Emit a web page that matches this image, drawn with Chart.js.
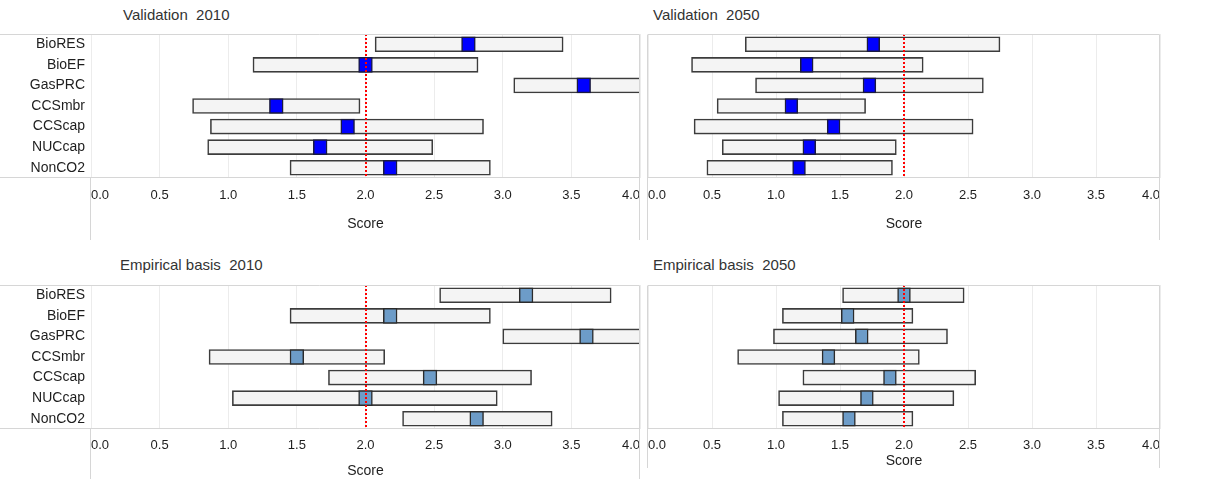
<!DOCTYPE html>
<html>
<head>
<meta charset="utf-8">
<script src="https://cdn.jsdelivr.net/npm/chart.js@4.4.1/dist/chart.umd.min.js"></script>
<style>
  html, body { margin: 0; padding: 0; background: #fff; }
  body { width: 1206px; height: 479px; position: relative; overflow: hidden; font-family: "Liberation Sans", Arial, sans-serif; }
  .panel { position: absolute; }
  .ttl { position: absolute; font-size: 15px; color: #333; white-space: pre; line-height: 18px; }
</style>
</head>
<body>
<div class="ttl" style="left:123px; top:6px;">Validation  2010</div>
<div class="ttl" style="left:653px; top:6px;">Validation  2050</div>
<div class="ttl" style="left:120px; top:256px;">Empirical basis  2010</div>
<div class="ttl" style="left:653px; top:256px;">Empirical basis  2050</div>

<div class="panel" style="left:0; top:33px; width:641px; height:207px;"><canvas id="c-val2010"></canvas></div>
<div class="panel" style="left:647px; top:33px; width:514px; height:207px;"><canvas id="c-val2050"></canvas></div>
<div class="panel" style="left:0; top:284px; width:641px; height:195px;"><canvas id="c-emp2010"></canvas></div>
<div class="panel" style="left:647px; top:284px; width:514px; height:184px;"><canvas id="c-emp2050"></canvas></div>

<script>
    const categories = ['BioRES', 'BioEF', 'GasPRC', 'CCSmbr', 'CCScap', 'NUCcap', 'NonCO2'];
    const xTicks = [0, 0.5, 1, 1.5, 2, 2.5, 3, 3.5, 4];
    const refScore = 2.0;

    // Validation 2010
    const val2010Low = [2.07, 1.18, 3.08, 0.74, 0.87, 0.85, 1.45];
    const val2010High = [3.44, 2.82, 4.10, 1.96, 2.86, 2.49, 2.91];
    const val2010Mid = [2.75, 2.00, 3.59, 1.35, 1.87, 1.67, 2.18];

    // Validation 2050
    const val2050Low = [0.76, 0.34, 0.84, 0.54, 0.36, 0.58, 0.46];
    const val2050High = [2.75, 2.15, 2.62, 1.70, 2.54, 1.94, 1.91];
    const val2050Mid = [1.76, 1.24, 1.73, 1.12, 1.45, 1.26, 1.18];

    // Empirical basis 2010
    const emp2010Low = [2.54, 1.45, 3.00, 0.86, 1.73, 1.03, 2.27];
    const emp2010High = [3.79, 2.91, 4.10, 2.14, 3.21, 2.96, 3.36];
    const emp2010Mid = [3.17, 2.18, 3.61, 1.50, 2.47, 2.00, 2.81];

    // Empirical basis 2050
    const emp2050Low = [1.52, 1.05, 0.98, 0.70, 1.21, 1.02, 1.05];
    const emp2050High = [2.47, 2.07, 2.34, 2.12, 2.56, 2.39, 2.07];
    const emp2050Mid = [2.00, 1.56, 1.67, 1.41, 1.89, 1.71, 1.57];

    const FONT = '"Liberation Sans", Arial, sans-serif';
    const BORDER = '#d6d6d6';
    const HALF = 0.05; // marker half width in score units

    const noPad = (s) => { s.paddingTop = 0; s.paddingBottom = 0; s.paddingLeft = 0; s.paddingRight = 0; };

    // tableau style pane borders + red reference line
    const paneLines = {
        id: 'paneLines',
        afterDatasetsDraw(chart, args, opts) {
            const { ctx, chartArea: a, scales: { x } } = chart;
            const px = Math.round(x.getPixelForValue(refScore));
            ctx.save();
            ctx.strokeStyle = '#ff0000';
            ctx.lineWidth = 2;
            ctx.setLineDash([2, 2]);
            ctx.beginPath();
            ctx.moveTo(px, a.top);
            ctx.lineTo(px, a.bottom);
            ctx.stroke();
            ctx.restore();
        },
        afterDraw(chart, args, opts) {
            const { ctx, chartArea: a, height } = chart;
            const x0 = opts.rowHeader ? 0 : a.left;
            const t = Math.floor(a.top) + 0.5, b = Math.round(a.bottom) - 0.5;
            const l = Math.round(a.left) - 0.5, r = Math.round(a.right) - 0.5;
            ctx.save();
            ctx.strokeStyle = BORDER;
            ctx.lineWidth = 1;
            ctx.beginPath();
            ctx.moveTo(x0, t); ctx.lineTo(r, t);
            ctx.moveTo(x0, b); ctx.lineTo(r, b);
            ctx.moveTo(r, t); ctx.lineTo(r, height);
            ctx.moveTo(l, opts.rowHeader ? b : t); ctx.lineTo(l, height);
            ctx.stroke();
            ctx.restore();
        }
    };

    function makePanel(id, low, high, mid, o) {
        const ranges = categories.map((c, i) => [low[i], high[i]]);
        const marks = categories.map((c, i) => [mid[i] - HALF, mid[i] + HALF]);
        return new Chart(document.getElementById(id), {
            type: 'bar',
            data: {
                labels: categories,
                datasets: [
                    { data: marks, order: 0, backgroundColor: o.markFill, borderColor: o.markBorder, borderWidth: 1.5, borderSkipped: false, barThickness: 15, grouped: false },
                    { data: ranges, order: 1, backgroundColor: '#f4f4f4', borderColor: '#3c3c3c', borderWidth: 1.6, borderSkipped: false, barThickness: 15, grouped: false }
                ]
            },
            options: {
                indexAxis: 'y',
                responsive: true,
                maintainAspectRatio: false,
                animation: false,
                layout: { padding: { top: 1, right: 1, left: o.rowHeader ? 0 : 1, bottom: 0 } },
                plugins: {
                    legend: { display: false },
                    tooltip: { enabled: false },
                    paneLines: { rowHeader: o.rowHeader }
                },
                scales: {
                    x: {
                        type: 'linear', min: 0, max: 4,
                        afterBuildTicks: (s) => { s.ticks = xTicks.map(v => ({ value: v })); },
                        afterFit: (s) => { s.height = o.axisH; noPad(s); },
                        grid: { color: '#ececec', drawTicks: false },
                        border: { display: false },
                        ticks: { align: 'inner', padding: o.tickPad, color: '#1e1e1e', font: { family: FONT, size: 13 }, callback: (v) => Number(v).toFixed(1) },
                        title: { display: true, text: 'Score', color: '#1e1e1e', font: { family: FONT, size: 14, lineHeight: 1 }, padding: { top: 0, bottom: o.titlePad } }
                    },
                    y: {
                        type: 'category',
                        display: o.rowHeader,
                        afterFit: (s) => { s.width = o.rowHeader ? 91 : 0; noPad(s); },
                        grid: { display: false, drawTicks: false },
                        border: { display: false },
                        ticks: { autoSkip: false, padding: 6, color: '#1e1e1e', font: { family: FONT, size: 14 } }
                    }
                }
            },
            plugins: [paneLines]
        });
    }

    const blue = { markFill: '#0000ff', markBorder: '#1a1a40' };
    const steel = { markFill: '#6d9cc8', markBorder: '#2b2b2b' };

    makePanel('c-val2010', val2010Low, val2010High, val2010Mid, { ...blue, rowHeader: true, axisH: 62, tickPad: 10, titlePad: 9 });
    makePanel('c-val2050', val2050Low, val2050High, val2050Mid, { ...blue, rowHeader: false, axisH: 62, tickPad: 10, titlePad: 9 });
    makePanel('c-emp2010', emp2010Low, emp2010High, emp2010Mid, { ...steel, rowHeader: true, axisH: 50, tickPad: 9, titlePad: 1 });
    makePanel('c-emp2050', emp2050Low, emp2050High, emp2050Mid, { ...steel, rowHeader: false, axisH: 39, tickPad: 9, titlePad: 0 });
</script>
</body>
</html>
